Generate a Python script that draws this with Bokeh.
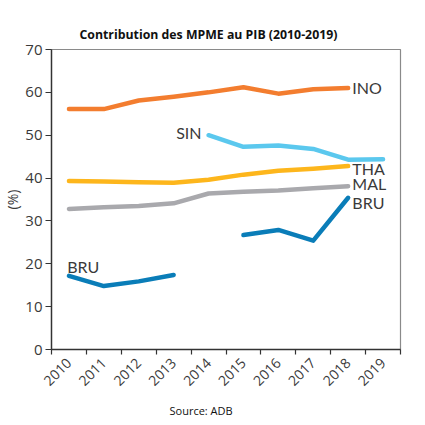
import math
from bokeh.plotting import figure
from bokeh.models import Range1d, FixedTicker, Label, Title
from bokeh.embed import file_html
from bokeh.resources import INLINE

nan = float("nan")
years = ["2010", "2011", "2012", "2013", "2014", "2015", "2016", "2017", "2018", "2019"]
ino = [56.1, 56.1, 58.1, 59.0, 60.0, 61.2, 59.7, 60.7, 61.0, nan]
sin = [nan, nan, nan, nan, 50.0, 47.3, 47.6, 46.8, 44.3, 44.4]
tha = [39.3, 39.2, 39.0, 38.9, 39.6, 40.8, 41.7, 42.2, 42.8, nan]
mal = [32.8, 33.2, 33.5, 34.1, 36.4, 36.8, 37.1, 37.6, 38.1, nan]
bru = [17.2, 14.8, 15.9, 17.4, nan, 26.7, 27.9, 25.4, 35.4, nan]
y_ticks = [0, 10, 20, 30, 40, 50, 60, 70]

colors = {"INO": "#F37D2F", "SIN": "#5BC8EE", "THA": "#FDB61C", "MAL": "#A9A9AD", "BRU": "#0A7DB8"}
FONT = "Open Sans"
TXT = "#3a3a3a"

xs = [i + 0.5 for i in range(len(years))]

p = figure(width=425, height=425, output_backend="svg", toolbar_location=None,
           x_range=Range1d(0, len(years)), y_range=Range1d(0, 70),
           min_border_left=47, min_border_right=25, min_border_top=49, min_border_bottom=76)

p.xgrid.visible = False
p.ygrid.visible = False
p.outline_line_color = "#8a8a8a"
p.outline_line_width = 1.2
p.background_fill_color = "white"
p.border_fill_color = "white"

# x axis: labels at centers, tick marks at boundaries
p.xaxis.ticker = FixedTicker(ticks=xs, minor_ticks=list(range(len(years) + 1)))
p.xaxis.major_label_overrides = {x: y for x, y in zip(xs, years)}
p.xaxis.major_tick_line_color = None
p.xaxis.minor_tick_in = 0
p.xaxis.minor_tick_out = 5
p.xaxis.minor_tick_line_color = "#333333"
p.xaxis.minor_tick_line_width = 1.2
p.xaxis.axis_line_color = "#333333"
p.xaxis.axis_line_width = 1.4
p.xaxis.major_label_orientation = math.pi / 4
p.xaxis.major_label_text_font = FONT
p.xaxis.major_label_text_font_size = "14px"
p.xaxis.major_label_text_color = TXT
p.xaxis.major_label_standoff = 5

p.yaxis.ticker = FixedTicker(ticks=y_ticks)
p.yaxis.minor_tick_line_color = None
p.yaxis.major_tick_in = 0
p.yaxis.major_tick_out = 6
p.yaxis.major_tick_line_color = "#333333"
p.yaxis.axis_line_color = "#333333"
p.yaxis.axis_line_width = 1.4
p.yaxis.major_label_text_font = FONT
p.yaxis.major_label_text_font_size = "15px"
p.yaxis.major_label_text_color = TXT
p.yaxis.major_label_standoff = 3
p.yaxis.axis_label = "(%)"
p.yaxis.axis_label_text_font = FONT
p.yaxis.axis_label_text_font_size = "14px"
p.yaxis.axis_label_text_font_style = "normal"
p.yaxis.axis_label_text_color = TXT
p.yaxis.axis_label_standoff = 0

series = [("INO", ino), ("SIN", sin), ("THA", tha), ("MAL", mal), ("BRU", bru)]
for name, vals in series:
    p.line(xs, vals, line_color=colors[name], line_width=4.5, line_cap="round", line_join="round")

def lab(text, x, y, align="left"):
    p.add_layout(Label(x=x, y=y, text=text, text_font="Lato", text_font_size="16px",
                       text_color=TXT, text_align=align, text_baseline="middle"))

lab("INO", 8.62, 61.2)
lab("THA", 8.62, 42.2)
lab("MAL", 8.62, 38.7)
lab("BRU", 8.62, 34.4)
lab("SIN", 4.3, 50.6, align="right")
lab("BRU", 0.45, 19.3)

title = Title(text="Contribution des MPME au PIB (2010-2019)", align="left", offset=28,
              text_font=FONT, text_font_size="12.3px", text_font_style="bold",
              text_color="#111111", standoff=14)
p.add_layout(title, "above")

src = Title(text="Source: ADB", align="left", offset=118, text_font=FONT,
            text_font_size="11px", text_font_style="normal", text_color="#111111", standoff=14)
p.add_layout(src, "below")

open("out.html", "w").write(file_html(p, INLINE))
